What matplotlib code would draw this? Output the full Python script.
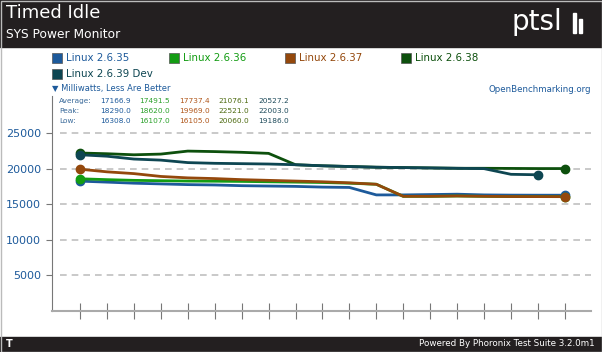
import matplotlib
matplotlib.use('Agg')
import matplotlib.pyplot as plt
import numpy as np
from matplotlib.patches import Rectangle

W, H = 602, 352

series_names = ['Linux 2.6.35', 'Linux 2.6.36', 'Linux 2.6.37', 'Linux 2.6.38', 'Linux 2.6.39 Dev']
colors = ['#1d5a9b', '#139c13', '#94480c', '#0d500d', '#0e4652']

linux_2635 = [18290, 18150, 18000, 17900, 17800, 17750, 17650, 17600, 17550, 17450, 17400,
              16350, 16350, 16400, 16450, 16350, 16320, 16310, 16308]
linux_2636 = [18620, 18500, 18400, 18350, 18300, 18280, 18250, 18200, 18150, 18100, 18000,
              17850, 16150, 16150, 16200, 16150, 16120, 16110, 16107]
linux_2637 = [19969, 19600, 19350, 18950, 18750, 18650, 18500, 18400, 18300, 18200, 18050,
              17850, 16150, 16150, 16200, 16150, 16120, 16110, 16105]
linux_2638 = [22250, 22150, 22000, 22100, 22521, 22450, 22350, 22200, 20600, 20450, 20350,
              20250, 20200, 20150, 20100, 20100, 20080, 20060, 20060]
linux_2639 = [22003, 21800, 21400, 21250, 20900, 20800, 20750, 20700, 20600, 20450, 20350,
              20250, 20200, 20150, 20100, 20050, 19250, 19186]

stat_labels = ['Average:', 'Peak:', 'Low:']
stats = [['17166.9', '17491.5', '17737.4', '21076.1', '20527.2'],
         ['18290.0', '18620.0', '19969.0', '22521.0', '22003.0'],
         ['16308.0', '16107.0', '16105.0', '20060.0', '19186.0']]
stat_colors = ['#1d5a9b', '#2aa12a', '#b0561a', '#4d6a10', '#1d4a5a']
yticks = [5000, 10000, 15000, 20000, 25000]


def px(x, y):
    return x / W, 1 - y / H


fig = plt.figure(figsize=(W / 100, H / 100), dpi=100)
fig.patch.set_facecolor('white')

# header and footer bars
fig.patches.append(Rectangle(px(0, 47), 1, 47 / H, transform=fig.transFigure, color='#231f20', zorder=0))
fig.patches.append(Rectangle((0, 0), 1, 15 / H, transform=fig.transFigure, color='#231f20', zorder=0))
fig.patches.append(Rectangle(px(0.5, 351.5), 601 / W, 351 / H, transform=fig.transFigure,
                             fill=False, edgecolor='#bbbbbb', lw=1, zorder=0))

fig.text(*px(6, 13), 'Timed Idle', color='white', fontsize=13, va='center', ha='left')
fig.text(*px(6, 34), 'SYS Power Monitor', color='white', fontsize=8.8, va='center', ha='left')
fig.text(*px(512, 22), 'ptsl', color='white', fontsize=20, va='center', ha='left')
for i, bh in enumerate([20, 14]):
    fig.patches.append(Rectangle(px(573 + i * 6, 33), 3 / W, bh / H, transform=fig.transFigure,
                                 color='white'))
fig.text(*px(6, 344), 'T', color='white', fontsize=7, fontweight='bold', va='center', ha='left')
fig.text(*px(595, 344), 'Powered By Phoronix Test Suite 3.2.0m1', color='white', fontsize=6.3,
         va='center', ha='right')

# legend
legend_pos = [(52, 58), (169, 58), (285, 58), (401, 58), (52, 74)]
for name, c, (lx, ly) in zip(series_names, colors, legend_pos):
    fig.patches.append(Rectangle(px(lx, ly + 5), 10 / W, 10 / H, transform=fig.transFigure,
                                 facecolor=c, edgecolor='#555555', lw=0.5))
    fig.text(*px(lx + 14, ly), name, color=c, fontsize=7.4, va='center', ha='left')

fig.text(*px(52, 89), '\u25bc Milliwatts, Less Are Better', color='#1d5a9b', fontsize=6.0,
         va='center', ha='left')
fig.text(*px(591, 89), 'OpenBenchmarking.org', color='#1d5a9b', fontsize=6.2, va='center', ha='right')

for r, lab in enumerate(stat_labels):
    yy = 101 + r * 10
    fig.text(*px(59, yy), lab, color='#3a6a9a', fontsize=5.3, va='center', ha='left')
    for j, v in enumerate(stats[r]):
        fig.text(*px(100 + j * 39.5, yy), v, color=stat_colors[j], fontsize=5.3, va='center', ha='left')

# plot area
ax = fig.add_axes([52 / W, (H - 311) / H, (591 - 52) / W, (311 - 96) / H])
ax.set_facecolor('none')
ax.set_ylim(0, 30280)
ax.set_xlim(-1.04, 18.97)
for s in ['top', 'right']:
    ax.spines[s].set_visible(False)
ax.spines['left'].set_color('#777777')
ax.spines['bottom'].set_color('#aaaaaa')
ax.spines['bottom'].set_linewidth(1.5)
ax.set_yticks(yticks)
ax.set_yticklabels([str(t) for t in yticks], color='#1d5a9b', fontsize=8)
ax.tick_params(axis='y', length=4, color='#777777', pad=4)
ax.set_xticks(np.arange(19))
ax.set_xticklabels([])
ax.tick_params(axis='x', direction='inout', length=11, color='#777777')
for t in yticks:
    ax.plot([-0.75, 18.97], [t, t], color='#c0c0c0', lw=1.2, dashes=(4, 3), zorder=1)

all_series = [linux_2635, linux_2636, linux_2637, linux_2638, linux_2639]
order = [3, 4, 0, 1, 2]
for i in order:
    ys = all_series[i]
    xs = np.arange(len(ys))
    ax.plot(xs, ys, color=colors[i], lw=2, zorder=3)
    ax.plot([xs[0], xs[-1]], [ys[0], ys[-1]], 'o', color=colors[i], ms=6, zorder=4)

fig.savefig('out.png', dpi=100)
